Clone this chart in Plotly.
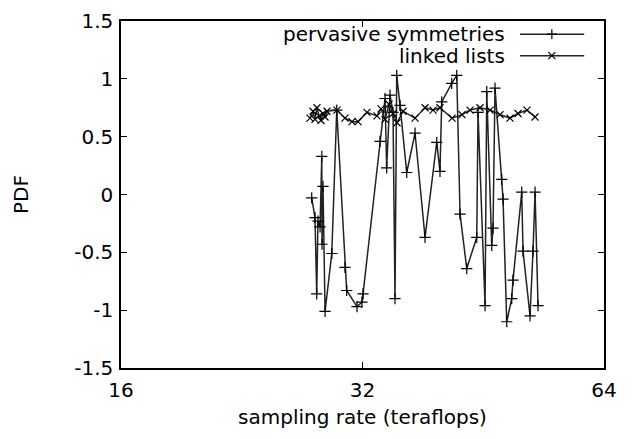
import plotly.graph_objects as go

# ---- data ----
ps_x = [27.66, 27.92, 28.06, 28.16, 28.33, 28.47, 28.49, 28.57, 28.74, 29.30,
        29.72, 30.43, 30.58, 31.50, 31.95, 32.05, 33.65, 34.14, 34.30, 34.63,
        34.93, 35.13, 35.30, 35.64, 36.33, 37.21, 38.29, 39.60, 39.97, 40.17,
        41.34, 41.94, 42.34, 43.16, 44.42, 44.58, 45.49, 45.71, 46.37, 46.54,
        46.81, 47.72, 47.90, 48.41, 49.11, 49.29, 50.54, 50.73, 51.76, 52.20,
        52.51, 52.96]
ps_y = [-0.03, -0.20, -0.86, -0.23, -0.28, 0.33, -0.43, 0.07, -1.01, -0.51,
        0.73, -0.63, -0.83, -0.97, -0.93, -0.86, 0.46, 0.83, 0.23, 0.86,
        0.71, -0.90, 1.03, 0.77, 0.19, 0.53, -0.37, 0.45, 0.20, 0.80,
        0.96, 1.03, -0.17, -0.64, -0.37, 0.71, -0.96, 0.89, -0.44, -0.29,
        0.92, 0.13, -0.04, -1.10, -0.90, -0.74, 0.02, -0.49, -1.05, -0.49,
        0.02, -0.96]

ll_x = [27.52, 27.76, 27.92, 28.08, 28.25, 28.41, 28.57, 28.74, 28.90, 29.74,
        30.43, 31.05, 31.59, 32.41, 33.36, 33.75, 34.14, 34.53, 34.93, 35.33,
        35.95, 37.21, 38.29, 39.18, 39.97, 41.38, 42.58, 43.57, 44.84, 46.15,
        47.49, 48.87, 50.00, 51.31, 52.51]
ll_y = [0.66, 0.72, 0.65, 0.75, 0.68, 0.64, 0.70, 0.67, 0.72, 0.73,
        0.66, 0.63, 0.63, 0.71, 0.68, 0.74, 0.65, 0.78, 0.70, 0.62,
        0.72, 0.66, 0.75, 0.73, 0.75, 0.66, 0.69, 0.73, 0.75, 0.73,
        0.69, 0.66, 0.70, 0.73, 0.67]

series_names = ["pervasive symmetries", "linked lists"]
x_ticks = [16, 32, 64]
x_tick_text = ["16", "32", "64"]
y_ticks = [-1.5, -1, -0.5, 0, 0.5, 1, 1.5]
y_tick_text = ["-1.5", "-1", "-0.5", "0", "0.5", "1", "1.5"]

FONT = "DejaVu Sans"
fig = go.Figure()

fig.add_trace(go.Scatter(
    x=ps_x, y=ps_y, mode="lines+markers", name=series_names[0],
    line=dict(color="#222222", width=1.5),
    marker=dict(symbol="cross-thin", size=8, line=dict(color="black", width=1.2)),
    showlegend=False))
fig.add_trace(go.Scatter(
    x=ll_x, y=ll_y, mode="lines+markers", name=series_names[1],
    line=dict(color="#222222", width=1.5),
    marker=dict(symbol="x-thin", size=7, line=dict(color="black", width=1.2)),
    showlegend=False))

# hand-drawn legend (gnuplot style: text then sample)
leg_y = [0.962, 0.900]
leg_sym = ["cross-thin", "x-thin"]
for i, name in enumerate(series_names):
    fig.add_trace(go.Scatter(
        x=[0.826, 0.959], y=[leg_y[i], leg_y[i]], xaxis="x2", yaxis="y2",
        mode="lines", line=dict(color="#222222", width=1.5),
        showlegend=False, hoverinfo="skip"))
    fig.add_trace(go.Scatter(
        x=[0.892], y=[leg_y[i]], xaxis="x2", yaxis="y2",
        mode="markers", marker=dict(symbol=leg_sym[i], size=7,
                                    line=dict(color="black", width=1.2)),
        showlegend=False, hoverinfo="skip"))
    fig.add_annotation(x=0.799, y=leg_y[i], xref="paper", yref="paper",
                       text=name, showarrow=False, xanchor="right",
                       yanchor="middle", font=dict(family=FONT, size=20, color="black"))

axis_common = dict(showline=True, linecolor="black", linewidth=1.5, mirror="ticks",
                   ticks="inside", ticklen=6, tickcolor="black", tickwidth=1,
                   showgrid=False, zeroline=False, automargin=False,
                   ticklabeloverflow="allow",
                   tickfont=dict(family=FONT, size=20, color="black"))

fig.update_layout(
    width=629, height=431,
    margin=dict(l=113, r=33, t=13, b=71),
    paper_bgcolor="white", plot_bgcolor="white",
    font=dict(family=FONT, size=20, color="black"),
    xaxis=dict(type="log", range=[1.20412, 1.80618], tickvals=x_ticks,
               ticktext=x_tick_text, ticklabelstandoff=3,
               title=dict(text="sampling rate (teraflops)", standoff=9,
                          font=dict(family=FONT, size=20)),
               **axis_common),
    yaxis=dict(range=[-1.5, 1.5], tickvals=y_ticks, ticktext=y_tick_text,
               ticklabelstandoff=2,
               title=dict(text="PDF", standoff=40, font=dict(family=FONT, size=20)),
               **axis_common),
    xaxis2=dict(range=[0, 1], overlaying="x", visible=False),
    yaxis2=dict(range=[0, 1], overlaying="y", visible=False),
)

fig.write_html("out.html")
